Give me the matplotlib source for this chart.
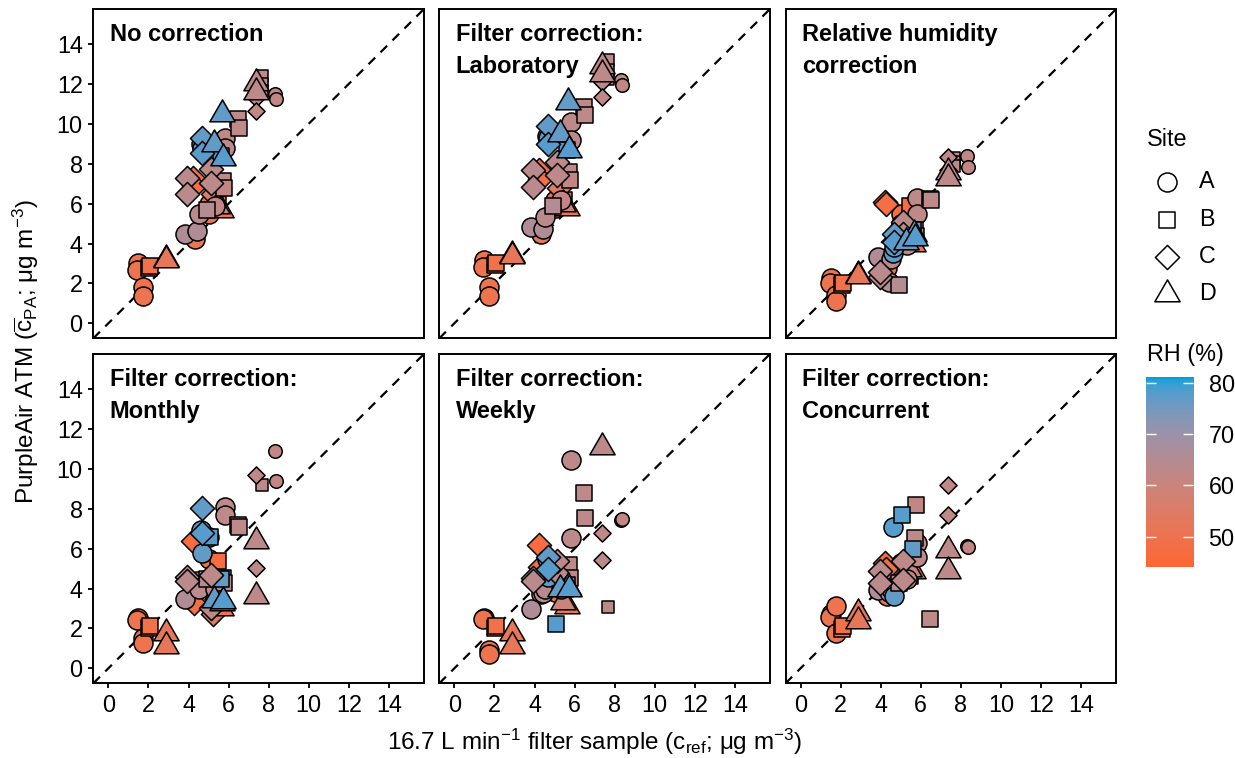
import numpy as np
import matplotlib
matplotlib.use("Agg")
import matplotlib.pyplot as plt
from matplotlib.path import Path
from matplotlib.colors import ListedColormap, to_rgb

plt.rcParams['font.family'] = ['Liberation Sans', 'DejaVu Sans']
plt.rcParams['mathtext.fontset'] = 'custom'
plt.rcParams['mathtext.rm'] = 'Liberation Sans'
plt.rcParams['mathtext.it'] = 'Liberation Sans:italic'
plt.rcParams['mathtext.bf'] = 'Liberation Sans:bold'

# ---------------- data (one entry per filter sample, drawing order) ----------------
site = ['A', 'A', 'A', 'A', 'B', 'B', 'D', 'D',
        'A', 'A', 'A', 'B', 'C', 'C', 'C', 'D', 'D',
        'A', 'A', 'A', 'A', 'A', 'A', 'A', 'A', 'A', 'A',
        'B', 'B', 'B', 'B', 'B', 'B', 'B', 'B', 'B', 'B',
        'C', 'C', 'C', 'C', 'C', 'C', 'C', 'C',
        'D', 'D', 'D', 'D', 'D']
c_ref = [1.50, 1.45, 1.75, 1.75, 2.05, 2.10, 2.88, 2.88,
         5.00, 5.00, 4.30, 5.45, 4.20, 4.25, 5.20, 5.60, 5.40,
         3.85, 4.40, 4.50, 4.60, 5.30, 5.80, 5.80, 4.65, 8.30, 8.35,
         5.70, 5.75, 6.45, 6.50, 5.05, 4.90, 5.60, 7.65, 7.65, 7.65,
         3.95, 3.95, 5.10, 5.10, 4.65, 4.65, 7.35, 7.35,
         5.65, 5.25, 5.70, 7.35, 7.35]
rh = [50, 50, 50, 50, 50, 49, 52, 52,
      48, 50, 52, 47, 47, 48, 55, 50, 60,
      66, 66, 64, 78, 62, 63, 63, 77, 62, 62,
      63, 62, 63, 63, 78, 65, 77, 63, 63, 63,
      64, 64, 63, 63, 77, 78, 63, 63,
      77, 77, 78, 63, 63]
size_group = (['L'] * 8 + ['L'] * 9 + ['L'] * 8 + ['S'] * 2 + ['L'] * 7 + ['S'] * 3
              + ['L'] * 6 + ['S'] * 2 + ['L'] * 5)

nan = np.nan
y_none = [3.00, 2.67, 1.80, 1.35, 2.75, 2.85, 3.20, 3.15,
          6.00, 5.50, 4.25, 6.00, 7.30, 6.90, 6.50, 5.70, 5.90,
          4.50, 4.65, 5.50, 9.00, 5.90, 9.30, 8.80, 8.80, 11.50, 11.25,
          7.15, 6.80, 10.25, 9.80, 8.90, 5.70, 8.40, 12.40, 12.00, 11.65,
          7.30, 6.50, 7.75, 7.05, 9.30, 8.55, 11.30, 10.65,
          10.50, 9.00, 8.30, 12.05, 11.60]
y_lab = [3.17, 2.83, 1.83, 1.38, 2.92, 3.00, 3.42, 3.38,
         6.20, 5.80, 4.50, 6.20, 7.67, 7.25, 6.80, 5.80, 6.00,
         4.83, 4.75, 5.35, 9.40, 6.17, 10.08, 9.20, 9.30, 12.17, 11.92,
         7.58, 7.17, 10.83, 10.42, 9.40, 5.90, 8.70, 13.17, 12.67, 12.25,
         7.67, 6.83, 8.08, 7.42, 9.90, 9.00, 12.08, 11.33,
         11.08, 9.50, 8.67, 12.90, 12.50]
y_rhcorr = [2.25, 2.00, 1.40, 1.10, 1.90, 2.00, 2.40, 2.35,
            5.50, 5.00, 2.75, 5.90, 6.08, 6.00, 4.80, 4.00, 4.40,
            3.33, 2.08, 3.20, 3.50, 3.90, 6.30, 5.50, 3.80, 8.40, 7.83,
            4.70, 4.40, 6.25, 6.20, 4.20, 1.90, 4.70, 8.27, 8.10, 7.90,
            2.33, 2.55, 5.08, 4.50, 4.50, 4.10, 8.33, 7.67,
            4.50, 4.10, 4.30, 7.60, 7.27]
y_month = [2.53, 2.40, 1.50, 1.28, 2.03, 2.10, 1.78, 1.10,
           6.60, 5.50, 3.80, 5.37, 6.37, 3.28, 2.70, 3.00, 3.80,
           3.45, 4.37, 4.00, 6.95, 3.95, 8.10, 7.70, 5.80, 10.87, 9.37,
           4.55, 4.30, 7.20, 7.10, 6.60, 4.50, 4.50, 9.20, nan, nan,
           4.60, 4.40, 4.70, 3.03, 8.03, 6.80, 9.70, 5.03,
           3.28, 3.40, 3.35, 6.37, 3.60]
y_week = [2.53, 2.45, 0.90, 0.72, 2.03, 2.10, 1.78, 1.10,
          3.80, 4.20, 3.70, 4.80, 6.20, 5.10, 4.30, 3.10, 3.30,
          2.95, 3.78, 4.00, 5.50, 3.95, 10.45, 6.53, 4.60, 7.45, 7.50,
          5.20, 4.53, 8.78, 7.53, 2.20, 4.90, 4.20, 3.08, nan, nan,
          4.53, 4.40, 4.78, 5.40, 5.60, 5.00, 6.78, 5.45,
          4.10, 3.95, 4.00, 11.10, nan]
y_conc = [2.70, 2.55, 3.10, 1.78, 1.95, 2.10, 2.78, 2.37,
          5.28, 4.80, 3.60, 4.62, 5.30, 5.00, 4.60, 4.90, 5.00,
          3.90, 3.80, 4.00, 7.10, 4.50, 6.30, 5.60, 3.60, 6.12, 6.10,
          6.53, 8.20, 2.45, nan, 7.70, 4.30, 6.00, nan, nan, nan,
          4.87, 4.28, 5.37, 4.45, nan, nan, 9.20, 7.70,
          nan, nan, nan, 5.95, 4.87]

panel_values = [y_none, y_lab, y_rhcorr, y_month, y_week, y_conc]
panel_titles = [["No correction"],
                ["Filter correction:", "Laboratory"],
                ["Relative humidity", "correction"],
                ["Filter correction:", "Monthly"],
                ["Filter correction:", "Weekly"],
                ["Filter correction:", "Concurrent"]]
site_levels = ['A', 'B', 'C', 'D']
axis_ticks = [0, 2, 4, 6, 8, 10, 12, 14]
rh_ticks = [50, 60, 70, 80]
rh_limits = (44.1, 81.3)

# ---------------- colour scale (CIELAB interpolation, like ggplot) ----------------
_M = np.array([[0.4124, 0.3576, 0.1805], [0.2126, 0.7152, 0.0722], [0.0193, 0.1192, 0.9505]])
_WHITE = np.array([0.95047, 1.0, 1.08883])

def _srgb_to_lab(rgb):
    c = np.array(rgb, dtype=float)
    lin = np.where(c <= 0.04045, c / 12.92, ((c + 0.055) / 1.055) ** 2.4)
    xyz = _M @ lin / _WHITE
    f = np.where(xyz > 0.008856, np.cbrt(xyz), 7.787 * xyz + 16 / 116)
    return np.array([116 * f[1] - 16, 500 * (f[0] - f[1]), 200 * (f[1] - f[2])])

def _lab_to_srgb(lab):
    L, a, b = lab
    fy = (L + 16) / 116
    f = np.array([fy + a / 500, fy, fy - b / 200])
    xyz = np.where(f ** 3 > 0.008856, f ** 3, (f - 16 / 116) / 7.787) * _WHITE
    lin = np.clip(np.linalg.inv(_M) @ xyz, 0, 1)
    c = np.where(lin <= 0.0031308, 12.92 * lin, 1.055 * lin ** (1 / 2.4) - 0.055)
    return np.clip(c, 0, 1)

low_lab = _srgb_to_lab(to_rgb('#FF6633'))
high_lab = _srgb_to_lab(to_rgb('#00A0DA'))
cmap = ListedColormap([_lab_to_srgb(low_lab + t * (high_lab - low_lab))
                       for t in np.linspace(0, 1, 256)])

def rh_color(v):
    t = (v - rh_limits[0]) / (rh_limits[1] - rh_limits[0])
    return cmap(float(np.clip(t, 0, 1)))

# ---------------- markers ----------------
tri_path = Path([(-1, -0.577), (1, -0.577), (0, 1.155), (-1, -0.577)], closed=True)
marker_of = {'A': 'o', 'B': 's', 'C': 'D', 'D': tri_path}
msize_of = {'A': 13.7, 'B': 12.0, 'C': 12.3, 'D': 21.0}
small_factor = 0.71

W, H = 1235, 758
fig = plt.figure(figsize=(W / 100, H / 100), dpi=100)

def px_axes(left, top, w, h):
    return fig.add_axes([left / W, 1 - (top + h) / H, w / W, h / H])

lefts = [93.3, 439.3, 785.5]
tops = [9.0, 354.0]
pw, ph = 330.7, 329.3
FS = 16.8

for k in range(6):
    r, c = divmod(k, 3)
    ax = px_axes(lefts[c], tops[r], pw, ph)
    ax.set_xlim(-0.75, 15.75)
    ax.set_ylim(-0.75, 15.75)
    ax.axline((0, 0), slope=1, color='black', lw=1.6, dashes=(4.2, 3.4), zorder=1)
    yv = panel_values[k]
    for i in range(len(c_ref)):
        if np.isnan(yv[i]):
            continue
        ms = msize_of[site[i]] * (small_factor if size_group[i] == 'S' else 1.0)
        ax.scatter(c_ref[i], yv[i], s=ms ** 2, marker=marker_of[site[i]],
                   facecolor=rh_color(rh[i]), edgecolor='black', linewidths=1.1, zorder=3)
    for s in ax.spines.values():
        s.set_linewidth(1.4)
    ax.set_xticks(axis_ticks)
    ax.set_yticks(axis_ticks)
    ax.tick_params(length=3.6, width=1.3, labelsize=FS, colors='black', pad=4.0)
    if r == 0:
        ax.tick_params(axis='x', bottom=False, labelbottom=False)
    if c != 0:
        ax.tick_params(axis='y', left=False, labelleft=False)
    for j, line in enumerate(panel_titles[k]):
        ax.text(0.05, 0.904 - j * 0.099, line, transform=ax.transAxes, fontsize=17,
                fontweight='bold', ha='left', va='baseline', zorder=5)

# axis titles
fig.text(595 / W, 1 - 742 / H,
         '16.7 L min$^{-1}$ filter sample (c$_{\\mathrm{ref}}$; μg m$^{-3}$)',
         ha='center', va='center', fontsize=17.5)
fig.text(26 / W, 1 - 352 / H,
         'PurpleAir ATM ($\\overline{\\mathrm{c}}_{\\mathrm{PA}}$; μg m$^{-3}$)',
         ha='center', va='center', rotation=90, fontsize=17.5)

# ---------------- legend: Site ----------------
lax = fig.add_axes([0, 0, 1, 1], zorder=-1)
lax.set_xlim(0, W)
lax.set_ylim(H, 0)
lax.axis('off')
lax.text(1147, 140, 'Site', fontsize=FS, ha='left', va='center')
leg_y = [182, 219.5, 256.5, 294]
for lvl, yy in zip(site_levels, leg_y):
    lax.scatter(1167, yy, s=msize_of[lvl] ** 2, marker=marker_of[lvl],
                facecolor='white', edgecolor='black', linewidths=1.1)
    lax.text(1199, yy, lvl, fontsize=FS, ha='left', va='center')
lax.text(1147, 355, 'RH (%)', fontsize=FS, ha='left', va='center')

# ---------------- colour bar ----------------
cax = px_axes(1146, 376.7, 47.3, 190)
grad = np.linspace(rh_limits[0], rh_limits[1], 300)[:, None]
cax.imshow(grad, aspect='auto', cmap=cmap, origin='lower',
           extent=[0, 1, rh_limits[0], rh_limits[1]], vmin=rh_limits[0], vmax=rh_limits[1])
cax.set_xlim(0, 1)
cax.set_ylim(*rh_limits)
cax.set_xticks([])
cax.set_yticks(rh_ticks)
cax.yaxis.tick_right()
cax.tick_params(axis='y', left=True, right=True, direction='in', color='white',
                length=7, width=1.0, labelsize=FS, pad=11)
for s in cax.spines.values():
    s.set_visible(False)

fig.savefig('out.png', dpi=100)
